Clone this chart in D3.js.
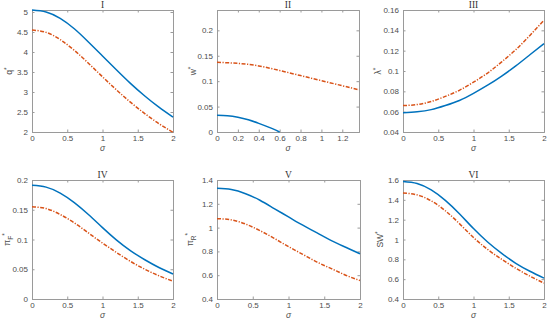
<!DOCTYPE html>
<html>
<head>
<meta charset="utf-8">
<script src="https://cdn.jsdelivr.net/npm/d3@7"></script>
<style>
  body { margin: 0; background: #fff; }
  svg { display: block; }
  .tick text { font-family: "Liberation Sans", Arial, sans-serif; font-size: 8px; fill: #4d4d4d; }
  .ptitle { font-family: "Liberation Serif", "Times New Roman", serif; font-size: 9.5px; fill: #333; }
  .lab { font-family: "Liberation Sans", Arial, sans-serif; font-size: 8.5px; fill: #4d4d4d; }
</style>
</head>
<body>
<div id="vis"></div>
<script>
// sigma grids
const sigma = [0, 0.2, 0.4, 0.6, 0.8, 1.0, 1.2, 1.4, 1.6, 1.8, 2.0]
const sigmaW = [0, 0.2, 0.4, 0.6, 0.8, 1.0, 1.2, 1.36]
const sigmaWb = [0, 0.1, 0.2, 0.3, 0.4, 0.5, 0.6]

// I: q*
const qBlue = [5.05, 5.00, 4.84, 4.58, 4.25, 3.90, 3.55, 3.21, 2.90, 2.62, 2.37]
const qRed  = [4.55, 4.49, 4.31, 4.04, 3.72, 3.38, 3.05, 2.74, 2.46, 2.21, 1.99]
// II: w*
const wBlue = [0.033, 0.032, 0.029, 0.024, 0.017, 0.009, 0.0]
const wRed  = [0.137, 0.135, 0.130, 0.121, 0.111, 0.101, 0.091, 0.083]
// III: lambda*
const lBlue = [0.059, 0.060, 0.062, 0.066, 0.071, 0.078, 0.086, 0.095, 0.105, 0.116, 0.127]
const lRed  = [0.066, 0.067, 0.070, 0.075, 0.081, 0.089, 0.098, 0.109, 0.121, 0.135, 0.150]
// IV: pi_F*
const pfBlue = [0.191, 0.188, 0.178, 0.162, 0.142, 0.120, 0.099, 0.081, 0.066, 0.053, 0.042]
const pfRed  = [0.155, 0.152, 0.142, 0.128, 0.111, 0.094, 0.078, 0.063, 0.050, 0.039, 0.030]
// V: pi_R*
const prBlue = [1.33, 1.32, 1.285, 1.23, 1.16, 1.09, 1.02, 0.955, 0.89, 0.835, 0.78]
const prRed  = [1.075, 1.065, 1.03, 0.975, 0.91, 0.84, 0.775, 0.71, 0.655, 0.60, 0.555]
// VI: SW*
const swBlue = [1.585, 1.565, 1.50, 1.395, 1.26, 1.11, 0.975, 0.86, 0.76, 0.68, 0.61]
const swRed  = [1.47, 1.45, 1.39, 1.29, 1.16, 1.02, 0.90, 0.80, 0.71, 0.63, 0.56]

const titles = ['I', 'II', 'III', 'IV', 'V', 'VI']
const yLabels = ['q', 'w', 'λ', 'π', 'π', 'SW']
const ySubs = ['', '', '', 'F', 'R', '']

const xTicks = [0, 0.5, 1, 1.5, 2]
const xTicksW = [0, 0.2, 0.4, 0.6, 0.8, 1, 1.2]
const yTicksList = [
  [2, 2.5, 3, 3.5, 4, 4.5, 5],
  [0, 0.05, 0.1, 0.15, 0.2],
  [0.04, 0.06, 0.08, 0.1, 0.12, 0.14, 0.16],
  [0, 0.05, 0.1, 0.15, 0.2],
  [0.4, 0.6, 0.8, 1, 1.2, 1.4],
  [0.4, 0.6, 0.8, 1, 1.2, 1.4, 1.6]
]
const yDomains = [[2, 5.05], [0, 0.24], [0.04, 0.16], [0, 0.2], [0.4, 1.4], [0.4, 1.6]]

const panels = [
  {x0: 32, x1: 173, y0: 10, y1: 132, xd: [0, 2], xt: xTicks, blue: [sigma, qBlue], red: [sigma, qRed], labX: 12},
  {x0: 217, x1: 359, y0: 10, y1: 132, xd: [0, 1.36], xt: xTicksW, blue: [sigmaWb, wBlue], red: [sigmaW, wRed], labX: 196},
  {x0: 403, x1: 544, y0: 10, y1: 132, xd: [0, 2], xt: xTicks, blue: [sigma, lBlue], red: [sigma, lRed], labX: 381},
  {x0: 32, x1: 173, y0: 180, y1: 299, xd: [0, 2], xt: xTicks, blue: [sigma, pfBlue], red: [sigma, pfRed], labX: 10},
  {x0: 217, x1: 360, y0: 180, y1: 299, xd: [0, 2], xt: xTicks, blue: [sigma, prBlue], red: [sigma, prRed], labX: 193},
  {x0: 403, x1: 544, y0: 180, y1: 299, xd: [0, 2], xt: xTicks, blue: [sigma, swBlue], red: [sigma, swRed], labX: 383}
]

const svg = d3.select('#vis').append('svg')
    .attr('width', 550)
    .attr('height', 322)

panels.forEach((p, i) => {
  const x = d3.scaleLinear().domain(p.xd).range([p.x0, p.x1])
  const y = d3.scaleLinear().domain(yDomains[i]).range([p.y1, p.y0])
  const g = svg.append('g')

  // ticks on all four sides, pointing inward
  const axB = g.append('g').attr('transform', `translate(0,${p.y1})`)
    .call(d3.axisBottom(x).tickValues(p.xt).tickSize(-2.5).tickPadding(3).tickFormat(d3.format('~g')))
  const axT = g.append('g').attr('transform', `translate(0,${p.y0})`)
    .call(d3.axisTop(x).tickValues(p.xt).tickSize(-2.5).tickFormat(''))
  const axL = g.append('g').attr('transform', `translate(${p.x0},0)`)
    .call(d3.axisLeft(y).tickValues(yTicksList[i]).tickSize(-2.5).tickPadding(4).tickFormat(d3.format('~g')))
  const axR = g.append('g').attr('transform', `translate(${p.x1},0)`)
    .call(d3.axisRight(y).tickValues(yTicksList[i]).tickSize(-2.5).tickFormat(''))
  ;[axB, axT, axL, axR].forEach(a => {
    a.select('.domain').attr('stroke', '#9a9a9a').attr('stroke-width', 1)
    a.selectAll('.tick line').attr('stroke', '#9a9a9a')
  })

  const line = d3.line().curve(d3.curveNatural)
  const pts = (s) => s[0].map((v, k) => [x(v), y(s[1][k])])

  g.append('path').attr('d', line(pts(p.red)))
    .attr('fill', 'none').attr('stroke', '#D95319').attr('stroke-width', 1.5)
    .attr('stroke-dasharray', '4,1.5,1.2,1.5')
  g.append('path').attr('d', line(pts(p.blue)))
    .attr('fill', 'none').attr('stroke', '#0072BD').attr('stroke-width', 1.5)

  // title
  g.append('text').attr('class', 'ptitle')
    .attr('x', (p.x0 + p.x1) / 2).attr('y', p.y0 - 2.5)
    .attr('text-anchor', 'middle').text(titles[i])

  // x label
  g.append('text').attr('class', 'lab')
    .attr('x', (p.x0 + p.x1) / 2).attr('y', p.y1 + 19)
    .attr('font-size', '8px')
    .attr('text-anchor', 'middle').attr('font-style', 'italic').text('σ')

  // y label
  const cy = (p.y0 + p.y1) / 2
  const t = g.append('text').attr('class', 'lab')
    .attr('transform', `translate(${p.labX},${cy}) rotate(-90)`)
    .attr('text-anchor', 'middle')
  t.append('tspan').text(yLabels[i])
  if (ySubs[i]) t.append('tspan').attr('dy', 3).attr('font-size', '6.5px').text(ySubs[i])
  t.append('tspan').attr('dy', ySubs[i] ? -6 : -3).attr('font-size', '6.5px').text('*')
})
</script>
</body>
</html>
